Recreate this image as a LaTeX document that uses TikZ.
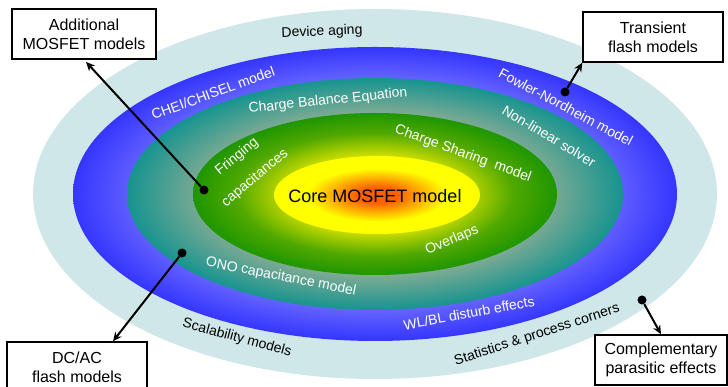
\documentclass[tikz,border=0pt]{standalone}
\usepackage{fontspec}
\setmainfont{Liberation Sans}
\usetikzlibrary{arrows.meta}
\definecolor{ink}{HTML}{000000}
\definecolor{agingA}{HTML}{CFE7E9}
\definecolor{blueIn}{HTML}{6A6AFF}
\definecolor{blueOut}{HTML}{3535FF}
\definecolor{tealIn}{HTML}{86AC94}
\definecolor{tealOut}{HTML}{16948F}
\definecolor{greenIn}{HTML}{CCDD00}
\definecolor{greenMid}{HTML}{50A800}
\definecolor{greenOut}{HTML}{1E9600}
\definecolor{coreIn}{HTML}{FF6000}
\definecolor{coreOut}{HTML}{FFFF00}
\pgfdeclareradialshading{blueshade}{\pgfpointorigin}{color(0bp)=(blueIn); color(19bp)=(blueIn); color(25bp)=(blueOut); color(50bp)=(blueOut)}
\pgfdeclareradialshading{tealshade}{\pgfpointorigin}{color(0bp)=(tealIn); color(17bp)=(tealIn); color(25bp)=(tealOut); color(50bp)=(tealOut)}
\pgfdeclareradialshading{greenshade}{\pgfpointorigin}{color(0bp)=(greenIn); color(12bp)=(greenIn); color(19bp)=(greenMid); color(25bp)=(greenOut); color(50bp)=(greenOut)}
\pgfdeclareradialshading{coreshade}{\pgfpointorigin}{color(0bp)=(coreIn); color(5bp)=(coreIn); color(17bp)=(coreOut); color(25bp)=(coreOut); color(50bp)=(coreOut)}
\tikzset{
  boxlabel/.style={draw=ink, line width=1.4pt, fill=white, minimum height=50pt, inner sep=0pt, align=center, font=\fontsize{16}{19}\selectfont, text=ink},
  ringtext/.style={font=\fontsize{14}{16}\selectfont, text=white, inner sep=1pt},
  darktext/.style={ringtext, text=ink},
  coretext/.style={font=\fontsize{18}{20}\selectfont, text=ink},
  dotmark/.style={circle, fill=ink, minimum size=9pt, inner sep=0pt},
  link/.style={draw=ink, line width=2pt, -{Stealth[length=9pt,width=8pt]}}
}

\begin{document}
\begin{tikzpicture}[x=1pt,y=1pt]
\useasboundingbox (0,0) rectangle (728,387);
\clip (0,0) rectangle (728,387);

% nested model layers
\fill[agingA] (375,193) ellipse [x radius=342pt, y radius=185pt];
\shade[shading=blueshade] (375,193) ellipse [x radius=302pt, y radius=147pt];
\shade[shading=tealshade] (375,193) ellipse [x radius=248pt, y radius=116pt];
\shade[shading=greenshade] (375,193) ellipse [x radius=182pt, y radius=81pt];
\shade[shading=coreshade] (377,192) ellipse [x radius=103pt, y radius=39pt];

\node[coretext] (core) at (375,191) {Core MOSFET model};

% layer labels
\node[darktext, rotate=2] (aging) at (322,355) {Device aging};
\node[darktext, rotate=-15] (scal) at (237,49) {Scalability models};
\node[darktext, rotate=18] (stats) at (537,52) {Statistics \& process corners};
\node[ringtext, rotate=20] (chei) at (213,294) {CHEI/CHISEL model};
\node[ringtext, rotate=-28] (fn) at (566,280) {Fowler-Nordheim model};
\node[ringtext, rotate=10.5] (wlbl) at (469,74) {WL/BL disturb effects};
\node[ringtext, rotate=6] (cbe) at (328,286) {Charge Balance Equation};
\node[ringtext, rotate=-31] (solver) at (549,251) {Non-linear solver};
\node[ringtext, rotate=-11] (ono) at (281,110) {ONO capacitance model};
\node[ringtext, rotate=-20] (share) at (463,233) {Charge Sharing\ \ model};
\node[ringtext, rotate=39] (fring) at (237,230) {Fringing};
\node[ringtext, rotate=40] (capa) at (255,209) {capacitances};
\node[ringtext, rotate=23] (over) at (452,147) {Overlaps};

% callout boxes
\node[boxlabel, minimum width=144pt] (addbox) at (84,353) {Additional\\MOSFET models};
\node[boxlabel, minimum width=140pt] (transbox) at (653,350) {Transient\\flash models};
\node[boxlabel, minimum width=140pt] (dcbox) at (77,20) {DC/AC\\flash models};
\node[boxlabel, minimum width=132pt] (compbox) at (661,27) {Complementary\\parasitic effects};

% pins and arrows
\node[dotmark] (dotA) at (204,197) {};
\node[dotmark] (dotB) at (565,295) {};
\node[dotmark] (dotC) at (182,134) {};
\node[dotmark] (dotD) at (642,87) {};
\draw[link, shorten >=3pt] (dotA) -- (addbox.south);
\draw[link] (dotB) -- (transbox.south west);
\draw[link] (dotC) -- ([xshift=36pt]dcbox.north);
\draw[link] (dotD) -- (compbox.north);

\end{tikzpicture}
\end{document}
